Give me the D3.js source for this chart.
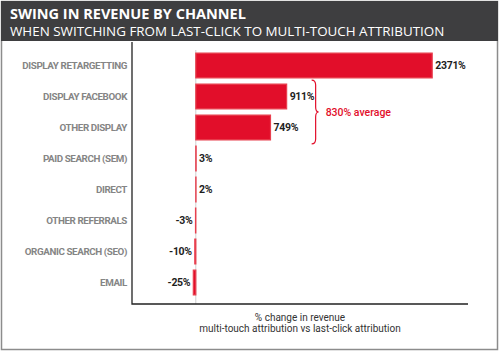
<!DOCTYPE html>
<html>
<head>
<meta charset="utf-8">
<script src="https://cdn.jsdelivr.net/npm/d3@7"></script>
<style>
  body { margin: 0; background: #fff; }
  svg { display: block; font-family: Roboto, "Open Sans", sans-serif; }
</style>
</head>
<body>
<svg id="chart" width="500" height="352"></svg>
<script>
// channels, top to bottom
var channels = ["DISPLAY RETARGETTING", "DISPLAY FACEBOOK", "OTHER DISPLAY", "PAID SEARCH (SEM)",
  "DIRECT", "OTHER REFERRALS", "ORGANIC SEARCH (SEO)", "EMAIL"];
var swing = [2371, 911, 749, 3, 2, -3, -10, -25];
var averaged = ["DISPLAY FACEBOOK", "OTHER DISPLAY"];
var averageLabel = "830% average";
var axisTitle = ["% change in revenue", "multi-touch attribution vs last-click attribution"];

(function() {
  var svg = d3.select("#chart");
  var W = 500, H = 352;
  var red = "#e20e2a";

  // card + header
  svg.append("rect").attr("x", 1.5).attr("y", 1.5).attr("width", W - 4).attr("height", H - 4)
    .attr("fill", "#fff").attr("stroke", "#8c8c8c").attr("stroke-width", 1.5);
  svg.append("rect").attr("x", 1).attr("y", 1).attr("width", W - 3).attr("height", 40).attr("fill", "#3e3e40");
  svg.append("text").attr("x", 10).attr("y", 19).attr("fill", "#fff")
    .attr("font-family", "'Open Sans', sans-serif")
    .style("font-size", "14.5px").style("font-weight", "bold")
    .text("SWING IN REVENUE BY CHANNEL");
  svg.append("text").attr("x", 10).attr("y", 35.5).attr("fill", "#fff")
    .attr("font-family", "'Open Sans', sans-serif")
    .style("font-size", "13.4px")
    .text("WHEN SWITCHING FROM LAST-CLICK TO MULTI-TOUCH ATTRIBUTION");

  var mLeft = 132, mRight = 468, mTop = 50, mBottom = 304;

  var x = d3.scaleLinear().domain([-640, 2730]).range([mLeft, mRight]);
  var y = d3.scaleBand().domain(channels).range([mTop, mTop + 31 * channels.length])
    .paddingInner(0.2).paddingOuter(0.1);

  // zero line
  svg.append("line").attr("x1", x(0)).attr("x2", x(0)).attr("y1", mTop).attr("y2", mBottom)
    .attr("stroke", "#cfcfcf").attr("stroke-width", 1);

  // frame (L shape)
  svg.append("path").attr("d", "M" + mLeft + ",42V" + mBottom + "H" + mRight)
    .attr("fill", "none").attr("stroke", "#222").attr("stroke-width", 1.3);

  // bars
  svg.selectAll("rect.bar").data(channels).enter().append("rect")
    .attr("class", "bar")
    .attr("x", function(d, i) { return x(Math.min(0, swing[i])); })
    .attr("y", function(d) { return y(d); })
    .attr("width", function(d, i) { return Math.abs(x(swing[i]) - x(0)); })
    .attr("height", y.bandwidth())
    .attr("fill", red).attr("stroke", "#e8404f").attr("stroke-width", 1.2);

  // category labels
  svg.selectAll("text.cat").data(channels).enter().append("text")
    .attr("class", "cat")
    .attr("x", mLeft - 5)
    .attr("y", function(d) { return y(d) + y.bandwidth() / 2; })
    .attr("dy", "0.35em").attr("text-anchor", "end")
    .attr("fill", "#858585").style("font-size", "9.8px").style("font-weight", 700)
    .style("letter-spacing", "-0.4px")
    .text(function(d) { return d; });

  // value labels
  svg.selectAll("text.val").data(channels).enter().append("text")
    .attr("class", "val")
    .attr("x", function(d, i) { return swing[i] >= 0 ? x(swing[i]) + 3 : x(swing[i]) - 3; })
    .attr("y", function(d) { return y(d) + y.bandwidth() / 2; })
    .attr("dy", "0.35em")
    .attr("text-anchor", function(d, i) { return swing[i] >= 0 ? "start" : "end"; })
    .attr("fill", "#1e1e1e").style("font-size", "10.5px").style("font-weight", 700)
    .style("letter-spacing", "-0.3px")
    .text(function(d, i) { return swing[i] + "%"; });

  // brace for the averaged group
  var y0 = y(averaged[0]) - 4, y1 = y(averaged[averaged.length - 1]) + y.bandwidth() + 4;
  var bx = x(d3.max(averaged, function(d) { return swing[channels.indexOf(d)]; })) + 25;
  var ym = (y0 + y1) / 2;
  svg.append("path")
    .attr("d", "M" + bx + "," + y0 + "Q" + (bx + 4) + "," + y0 + " " + (bx + 4) + "," + (y0 + 5) +
      "V" + (ym - 5) + "Q" + (bx + 4) + "," + ym + " " + (bx + 7) + "," + ym +
      "Q" + (bx + 4) + "," + ym + " " + (bx + 4) + "," + (ym + 5) +
      "V" + (y1 - 5) + "Q" + (bx + 4) + "," + y1 + " " + bx + "," + y1)
    .attr("fill", "none").attr("stroke", red).attr("stroke-width", 1.2);
  svg.append("text").attr("x", bx + 14).attr("y", ym).attr("dy", "0.35em")
    .attr("fill", red).style("font-size", "10.5px").style("font-weight", 500)
    .text(averageLabel);

  // axis title
  svg.selectAll("text.axt").data(axisTitle).enter().append("text")
    .attr("class", "axt")
    .attr("x", (mLeft + mRight) / 2).attr("y", function(d, i) { return 321 + i * 11; })
    .attr("text-anchor", "middle").attr("fill", "#333").style("font-size", "10px")
    .text(function(d) { return d; });
})();
</script>
</body>
</html>
